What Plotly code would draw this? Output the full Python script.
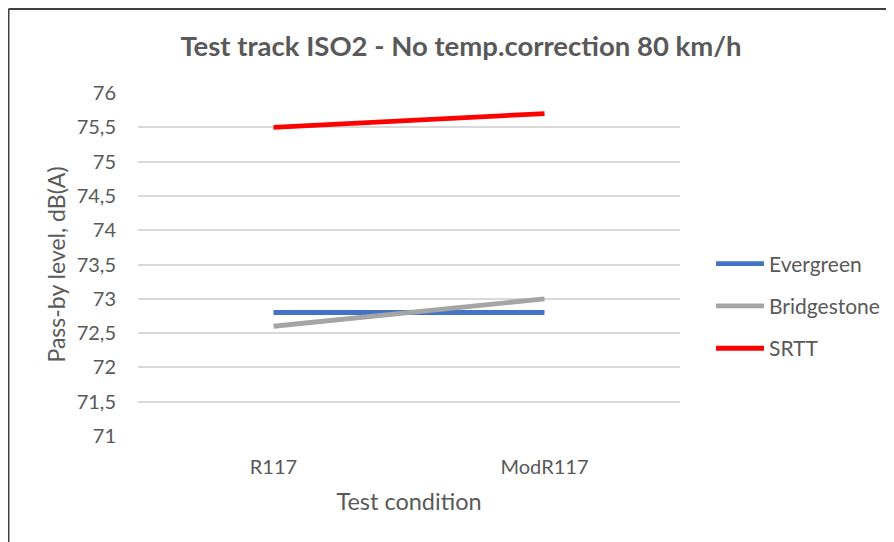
import plotly.graph_objects as go

categories = ["R117", "ModR117"]
evergreen = [72.8, 72.8]
bridgestone = [72.6, 73.0]
srtt = [75.5, 75.7]
y_ticks = [71, 71.5, 72, 72.5, 73, 73.5, 74, 74.5, 75, 75.5, 76]
y_tick_labels = ["71", "71,5", "72", "72,5", "73", "73,5", "74", "74,5", "75", "75,5", "76"]

series = [
    ("Evergreen", evergreen, "#4472C4"),
    ("Bridgestone", bridgestone, "#A5A5A5"),
    ("SRTT", srtt, "#FF0000"),
]

fig = go.Figure()
for i, (name, vals, color) in enumerate(series):
    fig.add_trace(go.Scatter(
        x=[0, 1], y=vals, mode="lines", name=name,
        line=dict(color=color, width=4.8),
        legendgroup=f"g{i}",
    ))

font_family = "Lato, Noto Sans, sans-serif"
grey = "#595959"

# page body adds an 8px offset; positions below are in figure pixels
W, H = 894, 542
L, R, T, B = 130, 222, 85, 114
pw, ph = W - L - R, H - T - B

fig.update_layout(
    width=W, height=H,
    margin=dict(l=L, r=R, t=T, b=B, autoexpand=False),
    paper_bgcolor="white", plot_bgcolor="white",
    title=dict(text="<b>Test track ISO2 - No temp.correction 80 km/h</b>",
               x=453 / W, xanchor="center", xref="container",
               y=1 - 38 / H, yanchor="middle", yref="container",
               font=dict(family=font_family, size=27.5, color=grey)),
    font=dict(family=font_family, color=grey, size=18),
    showlegend=True,
    legend=dict(x=703 / W, xanchor="left", xref="container",
                y=1 - 298 / H, yanchor="middle", yref="container",
                traceorder="grouped", tracegroupgap=12,
                font=dict(size=21, color=grey), itemwidth=48),
    xaxis=dict(range=[-0.5, 1.5], tickvals=[0, 1], ticktext=categories,
               showgrid=False, zeroline=False, showline=False, automargin=False,
               ticks="outside", ticklen=13, tickcolor="rgba(0,0,0,0)",
               tickfont=dict(size=20, color=grey),
               title=dict(text="Test condition", font=dict(size=23.5, color=grey), standoff=16)),
    yaxis=dict(range=[71, 76], tickvals=y_ticks, ticktext=y_tick_labels,
               showgrid=True, gridcolor="#D9D9D9", gridwidth=1.5,
               zeroline=False, showline=False, automargin=False,
               ticks="outside", ticklen=17, tickcolor="rgba(0,0,0,0)",
               tickfont=dict(size=20, color=grey),
               title=dict(text="Pass-by level, dB(A)", font=dict(size=23, color=grey), standoff=4)),
    shapes=[
        dict(type="line", xref="paper", yref="paper",
             x0=(0.5 - L) / pw, x1=2, y0=1 + (T - 1) / ph, y1=1 + (T - 1) / ph,
             line=dict(color="#404040", width=2)),
        dict(type="line", xref="paper", yref="paper",
             x0=(0.5 - L) / pw, x1=(0.5 - L) / pw, y0=-1, y1=1 + (T - 1) / ph,
             line=dict(color="#404040", width=2)),
    ],
)

fig.write_html("out.html")
